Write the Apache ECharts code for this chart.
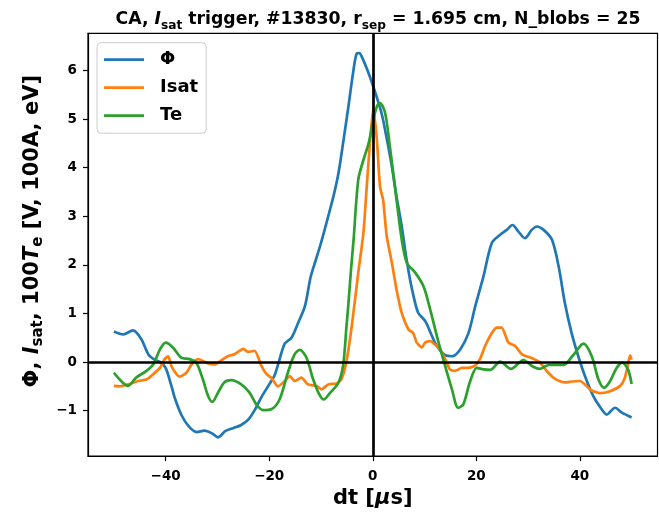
<!DOCTYPE html>
<html>
<head>
<meta charset="utf-8">
<script src="https://cdn.jsdelivr.net/npm/echarts@6/dist/echarts.min.js"></script>
<style>
html,body{margin:0;padding:0;background:#fff;}
#c{width:659px;height:514px;}
</style>
</head>
<body>
<div id="c"></div>
<script>
// ---- data ----
const xTicks = [-40, -20, 0, 20, 40];
const yTicks = [-1, 0, 1, 2, 3, 4, 5, 6];

const phiT = [-50,-48.2,-46.3,-44.7,-43.3,-42,-41,-40,-39,-38.2,-36.9,-35.5,-34,-32.5,-31,-29.9,-28.5,-27,-25.5,-24,-22.7,-21.5,-20,-19,-18.2,-17,-15.7,-14.4,-13.1,-12,-11,-10,-8.6,-7.5,-6.6,-5.6,-4.7,-3.8,-3.1,-2.6,-2.1,-1,0.1,1.7,2.7,3.7,4.6,5.6,6.4,7.2,8,8.8,10.1,11.1,12,13,14,15.3,16.9,18.5,19.8,21.4,23,24.6,25.9,27,28.1,29.4,30.7,31.7,33,34.6,35.9,37.1,38.4,39.7,41,42.6,44.2,45.2,46.8,48.1,49.4,50];
const phiV = [0.63,0.57,0.65,0.47,0.15,0.04,0.0,-0.12,-0.45,-0.75,-1.1,-1.33,-1.44,-1.41,-1.47,-1.55,-1.42,-1.36,-1.3,-1.18,-0.97,-0.72,-0.46,-0.28,-0.02,0.38,0.5,0.81,1.15,1.75,2.1,2.45,3.0,3.45,3.9,4.6,5.26,5.95,6.35,6.36,6.28,6.0,5.67,5.12,4.6,4.02,3.4,2.79,2.2,1.7,1.3,1.01,0.85,0.62,0.4,0.24,0.14,0.12,0.26,0.6,1.15,1.77,2.45,2.62,2.72,2.82,2.69,2.55,2.72,2.79,2.72,2.52,1.97,1.22,0.6,0.12,-0.29,-0.7,-0.97,-1.08,-0.94,-1.04,-1.11,-1.14];

const isatT = [-50,-48.9,-47.3,-45.3,-43.7,-42.4,-41.1,-40.2,-39.5,-38.9,-37.9,-37.3,-36,-35,-33.7,-32.8,-31.8,-30.5,-29.2,-28,-26.7,-25,-24.1,-22.8,-21.5,-20.5,-19.6,-18.3,-17,-16,-15.1,-13.8,-12.5,-10.9,-9.9,-8.6,-7,-6.1,-5.2,-4.1,-2.8,-1.8,-1.2,-0.5,0.1,0.8,1.4,2,2.7,3.7,4.6,5.6,6.9,7.8,8.5,9.5,10.1,11.1,12,13,14,14.9,15.9,17.2,18.5,19.8,20.7,21.7,23,24,24.9,26.2,27.5,28.8,29.7,31,32.3,33.9,35.3,37.1,38.5,40,42.2,43.9,45.8,47.8,48.6,49.1,49.7,50];
const isatV = [-0.49,-0.5,-0.46,-0.39,-0.36,-0.25,-0.12,0.06,0.12,-0.08,-0.25,-0.3,-0.22,-0.05,0.06,0.02,-0.03,-0.05,0.04,0.12,0.16,0.27,0.21,0.23,-0.08,-0.25,-0.32,-0.5,-0.39,-0.29,-0.39,-0.32,-0.46,-0.49,-0.56,-0.46,-0.44,-0.36,-0.05,0.7,1.84,2.66,3.55,4.57,5.22,4.57,3.61,3.34,2.59,2.04,1.49,1.01,0.67,0.6,0.4,0.3,0.4,0.43,0.36,0.26,0.06,-0.15,-0.18,-0.12,-0.12,-0.07,0.06,0.33,0.6,0.71,0.71,0.4,0.33,0.16,0.12,0.07,-0.01,-0.22,-0.35,-0.42,-0.4,-0.39,-0.58,-0.64,-0.6,-0.49,-0.35,-0.15,0.14,0.05];

const teT = [-50,-48.6,-47.3,-45.7,-43.7,-42.4,-41.1,-40,-38.6,-37,-35.4,-34.1,-32.8,-31.8,-31,-29.9,-28.6,-27.3,-25.4,-23.8,-22.5,-21.2,-19.6,-18,-16.4,-15.1,-14.1,-12.8,-11.5,-10.4,-9.5,-8.2,-6.6,-5.7,-5.1,-4.7,-4.2,-3.7,-2.8,-1.8,-0.8,0.1,0.8,1.4,2.4,3.3,4.6,5.6,6.6,8.2,9.8,11.1,12.4,13.6,15.3,16.5,17.5,18.8,20.1,21.4,22.7,24.6,26.7,29.1,30.9,32.3,34,36.8,38.7,40.7,42.3,43.6,44.7,45.8,47.1,48.2,49.3,50];
const teV = [-0.22,-0.39,-0.49,-0.32,-0.18,-0.05,0.26,0.4,0.3,0.09,0.06,-0.01,-0.36,-0.7,-0.82,-0.63,-0.41,-0.37,-0.46,-0.63,-0.87,-0.99,-0.97,-0.77,-0.22,0.16,0.25,0.09,-0.36,-0.65,-0.77,-0.63,-0.42,-0.05,0.7,1.2,1.9,2.52,3.75,4.16,4.5,4.98,5.26,5.33,5.12,4.44,3.34,2.52,2.04,1.84,1.56,1.08,0.53,0.06,-0.56,-0.94,-0.87,-0.4,-0.12,-0.15,-0.16,0.01,-0.14,0.04,-0.09,-0.14,-0.06,-0.06,0.14,0.38,0.12,-0.36,-0.53,-0.4,-0.12,-0.01,-0.15,-0.45];

const pairs = (t, v) => t.map((x, i) => [x, v[i]]);
const fmt = v => (v < 0 ? '\u2212' + Math.abs(v) : String(v));
const FONT = 'DejaVu Sans';
const LW = 2.7;

const chart = echarts.init(document.getElementById('c'), null, {renderer: 'canvas'});
chart.setOption({
  animation: false,
  backgroundColor: '#fff',
  title: {
    text: 'CA, {i|I}{s|sat} trigger, #13830, r{s|sep} = 1.695 cm, N_blobs = 25',
    left: 373, textAlign: 'center', top: 3,
    textStyle: {
      fontFamily: FONT, fontWeight: 'bold', fontSize: 17.3, color: '#000', lineHeight: 24,
      rich: {
        i: {fontFamily: FONT, fontWeight: 'bold', fontStyle: 'italic', fontSize: 17.3, color: '#000', lineHeight: 24},
        s: {fontFamily: FONT, fontWeight: 'bold', fontSize: 12.2, color: '#000', lineHeight: 13, verticalAlign: 'bottom'}
      }
    }
  },
  grid: {left: 88, right: 1.5, top: 33.3, bottom: 57.3, show: true, borderColor: '#000', borderWidth: 1.2, backgroundColor: 'transparent'},
  legend: {
    orient: 'vertical', left: 97, top: 42.7,
    data: ['Φ', 'Isat', 'Te'],
    icon: 'rect',
    itemWidth: 40, itemHeight: LW, itemGap: 10,
    padding: [8, 8, 8.5, 7],
    backgroundColor: 'rgba(255,255,255,0.8)', borderColor: '#cccccc', borderWidth: 1, borderRadius: 4,
    textStyle: {fontFamily: FONT, fontWeight: 'bold', fontSize: 18, color: '#000', lineHeight: 14, padding: [0, 0, 0, 11]}
  },
  xAxis: {
    type: 'value', min: -55, max: 55,
    name: 'dt [{i|μ}s]', nameLocation: 'middle', nameGap: 24,
    nameTextStyle: {fontFamily: FONT, fontWeight: 'bold', fontSize: 21, color: '#000', verticalAlign: 'top',
      rich: {i: {fontFamily: FONT, fontWeight: 'bold', fontStyle: 'italic', fontSize: 21, color: '#000'}}},
    axisLine: {show: true, onZero: false, lineStyle: {color: '#000', width: 1.2}},
    axisTick: {show: true, length: 5, lineStyle: {color: '#000', width: 1.2}, customValues: xTicks},
    axisLabel: {fontFamily: FONT, fontWeight: 'bold', fontSize: 13.5, color: '#000', margin: 13, formatter: fmt, customValues: xTicks},
    splitLine: {show: false}
  },
  yAxis: {
    type: 'value', min: -1.935, max: 6.765,
    name: '{b|Φ, }{i|I}{s|sat}{b|, 100}{i|T}{s|e}{b| [V, 100A, eV]}', nameLocation: 'middle', nameGap: 34, nameRotate: 90,
    nameTextStyle: {fontFamily: FONT, fontWeight: 'bold', fontSize: 21, color: '#000', lineHeight: 26, padding: [0, 0, 0, 27],
      rich: {
        b: {fontFamily: FONT, fontWeight: 'bold', fontSize: 21, color: '#000', lineHeight: 26},
        i: {fontFamily: FONT, fontWeight: 'bold', fontStyle: 'italic', fontSize: 21, color: '#000', lineHeight: 26},
        s: {fontFamily: FONT, fontWeight: 'bold', fontSize: 15, color: '#000', lineHeight: 15, verticalAlign: 'bottom'}
      }},
    axisLine: {show: true, onZero: false, lineStyle: {color: '#000', width: 1.2}},
    axisTick: {show: true, length: 5, lineStyle: {color: '#000', width: 1.2}, customValues: yTicks},
    axisLabel: {fontFamily: FONT, fontWeight: 'bold', fontSize: 13.5, color: '#000', margin: 11, formatter: fmt, customValues: yTicks},
    splitLine: {show: false}
  },
  series: [
    {name: 'Φ', type: 'line', data: pairs(phiT, phiV), symbol: 'none', smooth: 0.3, lineStyle: {color: '#1f77b4', width: LW}, itemStyle: {color: '#1f77b4'}, z: 2},
    {name: 'Isat', type: 'line', data: pairs(isatT, isatV), symbol: 'none', smooth: 0.2, lineStyle: {color: '#ff7f0e', width: LW}, itemStyle: {color: '#ff7f0e'}, z: 3},
    {name: 'Te', type: 'line', data: pairs(teT, teV), symbol: 'none', smooth: 0.3, lineStyle: {color: '#2ca02c', width: LW}, itemStyle: {color: '#2ca02c'}, z: 4},
    {name: 'zero', type: 'line', data: [], z: 5, silent: true,
      markLine: {silent: true, symbol: 'none', label: {show: false}, animation: false,
        lineStyle: {color: '#000', width: LW, type: 'solid'},
        data: [{xAxis: 0}, {yAxis: 0}]}}
  ]
});
</script>
</body>
</html>
